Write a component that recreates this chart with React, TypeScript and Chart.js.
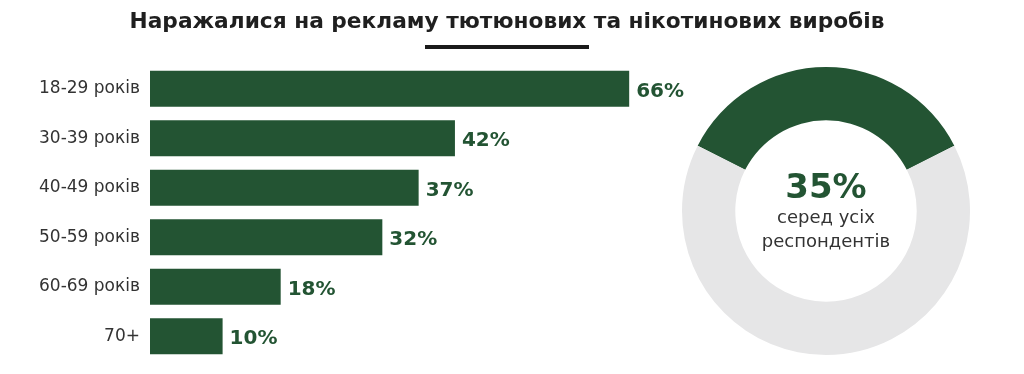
import React, { useEffect, useRef } from "react";
import { Chart, registerables } from "chart.js";

Chart.register(...registerables);

const titleText = "Наражалися на рекламу тютюнових та нікотинових виробів";
const categories = ["18-29 років", "30-39 років", "40-49 років", "50-59 років", "60-69 років", "70+"];
const values = [66, 42, 37, 32, 18, 10];
const overallLabels = ["Наражалися", "Не наражалися"];
const overallValues = [35, 65];
const centerValue = "35%";
const centerLines = ["серед усіх", "респондентів"];

const GREEN = "#235433";
const GRAY = "#e6e6e7";
const TEXT = "#333333";
const HEAVY = "'DejaVu Sans', sans-serif";
const REGULAR = "'DejaVu Sans', sans-serif";

export default function App() {
  const barRef = useRef<HTMLCanvasElement>(null);
  const donutRef = useRef<HTMLCanvasElement>(null);

  useEffect(() => {
    const valueLabels = {
      id: "valueLabels",
      afterDatasetsDraw(chart: any) {
        const ctx = chart.ctx;
        const meta = chart.getDatasetMeta(0);
        ctx.save();
        ctx.fillStyle = GREEN;
        ctx.font = `bold 20px ${HEAVY}`;
        ctx.textAlign = "left";
        ctx.textBaseline = "middle";
        meta.data.forEach((bar: any, i: number) => {
          ctx.fillText(`${values[i]}%`, bar.x + 7, bar.y + 3);
        });
        ctx.restore();
      },
    };
    const titleRule = {
      id: "titleRule",
      afterDraw(chart: any) {
        const ctx = chart.ctx;
        const t = chart.titleBlock;
        const cx = (t.left + t.right) / 2;
        ctx.save();
        ctx.fillStyle = "#1a1a1a";
        ctx.fillRect(cx - 82, 45, 164, 4);
        ctx.restore();
      },
    };

    const bar = new Chart(barRef.current!, {
      type: "bar",
      data: {
        labels: categories,
        datasets: [
          {
            data: values,
            backgroundColor: GREEN,
            borderWidth: 0,
            barPercentage: 0.73,
            categoryPercentage: 1,
          },
        ],
      },
      options: {
        indexAxis: "y",
        responsive: false,
        animation: false,
        layout: { padding: { left: 0, right: 10, top: 0, bottom: 13 } },
        plugins: {
          legend: { display: false },
          tooltip: { enabled: false },
          title: {
            display: true,
            text: titleText,
            color: "#1f1f1f",
            font: { family: HEAVY, size: 21.7, weight: "bold", lineHeight: 1.2 },
            padding: { top: 9, bottom: 29 },
          },
        },
        scales: {
          x: { min: 0, max: 119, display: false },
          y: {
            grid: { display: false, drawTicks: false },
            border: { display: false },
            ticks: {
              color: TEXT,
              padding: 10,
              font: { family: REGULAR, size: 17 },
            },
            afterFit(scale: any) {
              scale.width = 150;
              scale.paddingTop = 0;
              scale.paddingBottom = 0;
            },
          },
        },
      } as any,
      plugins: [valueLabels, titleRule],
    });

    const centerText = {
      id: "centerText",
      afterDraw(chart: any) {
        const ctx = chart.ctx;
        const a = chart.chartArea;
        const cx = (a.left + a.right) / 2;
        const cy = (a.top + a.bottom) / 2;
        ctx.save();
        ctx.textAlign = "center";
        ctx.textBaseline = "alphabetic";
        ctx.fillStyle = GREEN;
        ctx.font = `bold 34px ${HEAVY}`;
        ctx.fillText(centerValue, cx, cy - 13);
        ctx.fillStyle = TEXT;
        ctx.font = `18px ${REGULAR}`;
        ctx.fillText(centerLines[0], cx, cy + 12);
        ctx.fillText(centerLines[1], cx, cy + 36);
        ctx.restore();
      },
    };

    const donut = new Chart(donutRef.current!, {
      type: "doughnut",
      data: {
        labels: overallLabels,
        datasets: [
          {
            data: overallValues,
            backgroundColor: [GREEN, GRAY],
            borderWidth: 0,
          },
        ],
      },
      options: {
        responsive: false,
        animation: false,
        cutout: "63%",
        rotation: -63,
        plugins: { legend: { display: false }, tooltip: { enabled: false } },
      } as any,
      plugins: [centerText],
    });

    return () => {
      bar.destroy();
      donut.destroy();
    };
  }, []);

  return (
    <div style={{ position: "fixed", left: 0, top: 0, width: 1024, height: 374, background: "#fff" }}>
      <canvas ref={barRef} width={1024} height={374} style={{ position: "absolute", left: 0, top: 0 }} />
      <canvas ref={donutRef} width={288} height={288} style={{ position: "absolute", left: 682, top: 67 }} />
    </div>
  );
}
